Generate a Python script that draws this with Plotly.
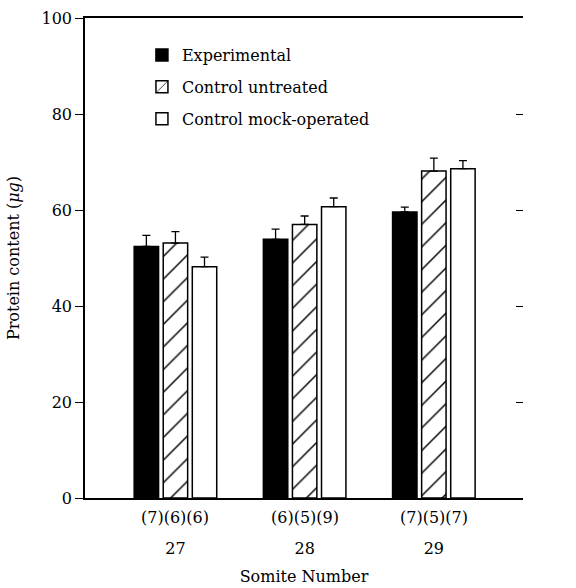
import plotly.graph_objects as go

somites = ["27", "28", "29"]
groups = ["Experimental", "Control untreated", "Control mock-operated"]
experimental = [52.4, 53.9, 59.6]
untreated = [53.1, 57.0, 68.1]
mock = [48.2, 60.7, 68.6]
err_experimental = [2.3, 2.1, 1.0]
err_untreated = [2.4, 1.75, 2.7]
err_mock = [2.0, 1.8, 1.7]
n_labels = ["(7)(6)(6)", "(6)(5)(9)", "(7)(5)(7)"]
y_ticks = [0, 20, 40, 60, 80, 100]

FONT = "DejaVu Serif"
FS = 16
xpos = list(range(len(somites)))

fig = go.Figure()
styles = [
    dict(color="black", pattern=dict(shape="")),
    dict(color="white", pattern=dict(shape="/", fgcolor="black", bgcolor="white", fgopacity=1,
                                     size=16, solidity=0.09)),
    dict(color="white", pattern=dict(shape="")),
]
for name, vals, errs, st in zip(groups, [experimental, untreated, mock],
                                [err_experimental, err_untreated, err_mock], styles):
    fig.add_trace(go.Bar(
        x=xpos, y=vals, name=name, legendgroup=name,
        marker=dict(color=st["color"], pattern=st["pattern"], line=dict(color="black", width=1.5)),
        error_y=dict(type="data", symmetric=False, array=errs, arrayminus=[0] * len(errs),
                     color="black", thickness=1.3, width=4),
    ))

# empty trace so the right-hand tick axis is drawn
fig.add_trace(go.Scatter(x=[None], y=[None], yaxis="y2", showlegend=False, hoverinfo="skip"))

for x, t in zip(xpos, n_labels):
    fig.add_annotation(x=x, y=-0.04, xref="x", yref="paper", text=t, showarrow=False,
                       font=dict(family=FONT, size=FS, color="black"), yanchor="middle")

fig.update_layout(
    width=576, height=588,
    margin=dict(l=85, r=53, t=18, b=90),
    paper_bgcolor="white", plot_bgcolor="white",
    barmode="group", bargap=0.325, bargroupgap=0.16,
    font=dict(family=FONT, size=FS, color="black"),
    showlegend=True,
    legend=dict(x=0.13, y=0.958, xanchor="left", yanchor="top", bgcolor="rgba(0,0,0,0)",
                font=dict(family=FONT, size=FS), tracegroupgap=8),
    xaxis=dict(range=[-0.7, 2.69], tickvals=xpos, ticktext=somites, showline=True, mirror=True,
               linecolor="black", linewidth=1.5, ticks="", showgrid=False, zeroline=False,
               automargin=False, ticklabelstandoff=35, tickfont=dict(family=FONT, size=FS),
               title=dict(text="Somite Number", standoff=14, font=dict(family=FONT, size=FS))),
    yaxis=dict(range=[0, 100], tickvals=y_ticks, showline=True, linecolor="black", linewidth=1.5,
               ticks="outside", ticklen=8, tickwidth=1.2, tickcolor="black", showgrid=False,
               zeroline=False, automargin=False, tickfont=dict(family=FONT, size=FS),
               title=dict(text="Protein content (<i>μg</i>)", standoff=18,
                          font=dict(family=FONT, size=FS))),
    yaxis2=dict(range=[0, 100], tickvals=y_ticks, overlaying="y", side="right", showline=False,
                ticks="inside", ticklen=7, tickwidth=1.2, tickcolor="black", showticklabels=False,
                showgrid=False, zeroline=False, automargin=False),
)

fig.write_html("out.html")
